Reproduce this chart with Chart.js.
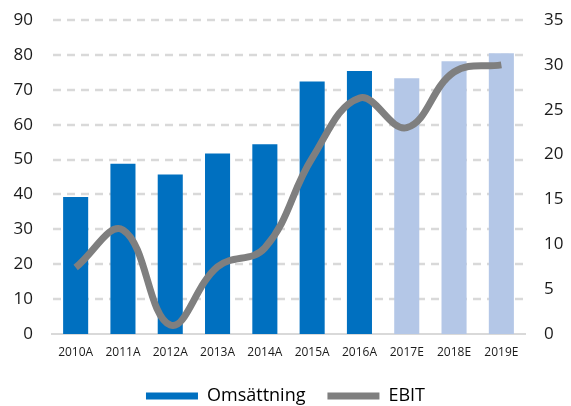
<!DOCTYPE html>
<html>
<head>
<meta charset="utf-8">
<script src="https://cdn.jsdelivr.net/npm/chart.js@4/dist/chart.umd.min.js"></script>
<style>
html,body{margin:0;padding:0;background:#fff;}
#wrap{width:571px;height:406px;position:relative;}
</style>
</head>
<body>
<div id="wrap"><canvas id="c" width="571" height="406"></canvas></div>
<script>
const categories = ['2010A','2011A','2012A','2013A','2014A','2015A','2016A','2017E','2018E','2019E'];
const omsattning = [39.3, 48.8, 45.7, 51.7, 54.4, 72.4, 75.4, 73.3, 78.2, 80.5];
const ebit = [7.4, 11.6, 1.0, 7.5, 9.6, 19.6, 26.3, 23.0, 29.2, 30.0];
const leftTicks = [0,10,20,30,40,50,60,70,80,90];
const rightTicks = [0,5,10,15,20,25,30,35];
const actualColor = '#0070C0';
const estimateColor = '#B4C7E7';
const barColors = categories.map(c => c.endsWith('E') ? estimateColor : actualColor);

const FONT = '"Open Sans", sans-serif';

const dashedGrid = {
  id: 'dashedGrid',
  beforeDatasetsDraw(chart) {
    const { ctx, chartArea } = chart;
    const ys = chart.scales.y;
    ctx.save();
    ctx.strokeStyle = '#D9D9D9';
    ctx.lineWidth = 2.5;
    ctx.setLineDash([8, 6]);
    ys.ticks.forEach(t => {
      if (t.value === 0) return;
      const py = Math.round(ys.getPixelForValue(t.value));
      ctx.beginPath();
      ctx.moveTo(chartArea.left + 1, py);
      ctx.lineTo(chartArea.right + 2, py);
      ctx.stroke();
    });
    ctx.restore();
  }
};

new Chart(document.getElementById('c'), {
  data: {
    labels: categories,
    datasets: [
      {
        type: 'line', label: 'EBIT', data: ebit, yAxisID: 'y2',
        borderColor: '#7F7F7F', backgroundColor: '#7F7F7F', borderWidth: 7,
        pointRadius: 0, tension: 0.4, order: 0, borderCapStyle: 'butt'
      },
      {
        type: 'bar', label: 'Omsättning', data: omsattning, yAxisID: 'y',
        backgroundColor: barColors, categoryPercentage: 1.0, barPercentage: 0.53, order: 1
      }
    ]
  },
  plugins: [dashedGrid],
  options: {
    responsive: false, animation: false,
    layout: { padding: { top: 20, left: 0, right: 0, bottom: -9 } },
    plugins: {
      tooltip: { enabled: false },
      legend: {
        position: 'bottom',
        labels: {
          font: { family: FONT, size: 18 }, color: '#1a1a1a',
          boxWidth: 52, boxHeight: 7, padding: 22,
          generateLabels: () => [
            { text: 'Omsättning', fillStyle: actualColor, strokeStyle: actualColor, lineWidth: 0, datasetIndex: 1 },
            { text: 'EBIT', fillStyle: '#7F7F7F', strokeStyle: '#7F7F7F', lineWidth: 0, datasetIndex: 0 }
          ]
        }
      }
    },
    scales: {
      x: {
        offset: true,
        grid: { display: false, drawTicks: false },
        border: { display: true, color: '#D9D9D9', width: 2 },
        ticks: { font: { family: FONT, size: 12 }, color: '#1a1a1a', padding: 11, maxRotation: 0 },
        afterFit: s => { s.height = 31; }
      },
      y: {
        position: 'left', min: 0, max: 90,
        afterBuildTicks: s => { s.ticks = leftTicks.map(v => ({ value: v })); },
        grid: { display: false, drawTicks: false },
        border: { display: false },
        ticks: { font: { family: FONT, size: 17 }, color: '#1a1a1a', padding: 19 },
        afterFit: s => { s.width = 52; s.paddingTop = 0; s.paddingBottom = 0; }
      },
      y2: {
        position: 'right', min: 0, max: 35,
        afterBuildTicks: s => { s.ticks = rightTicks.map(v => ({ value: v })); },
        grid: { display: false, drawTicks: false },
        border: { display: false },
        ticks: { font: { family: FONT, size: 17 }, color: '#1a1a1a', padding: 19 },
        afterFit: s => { s.width = 46; s.paddingTop = 0; s.paddingBottom = 0; }
      }
    }
  }
});
</script>
</body>
</html>
